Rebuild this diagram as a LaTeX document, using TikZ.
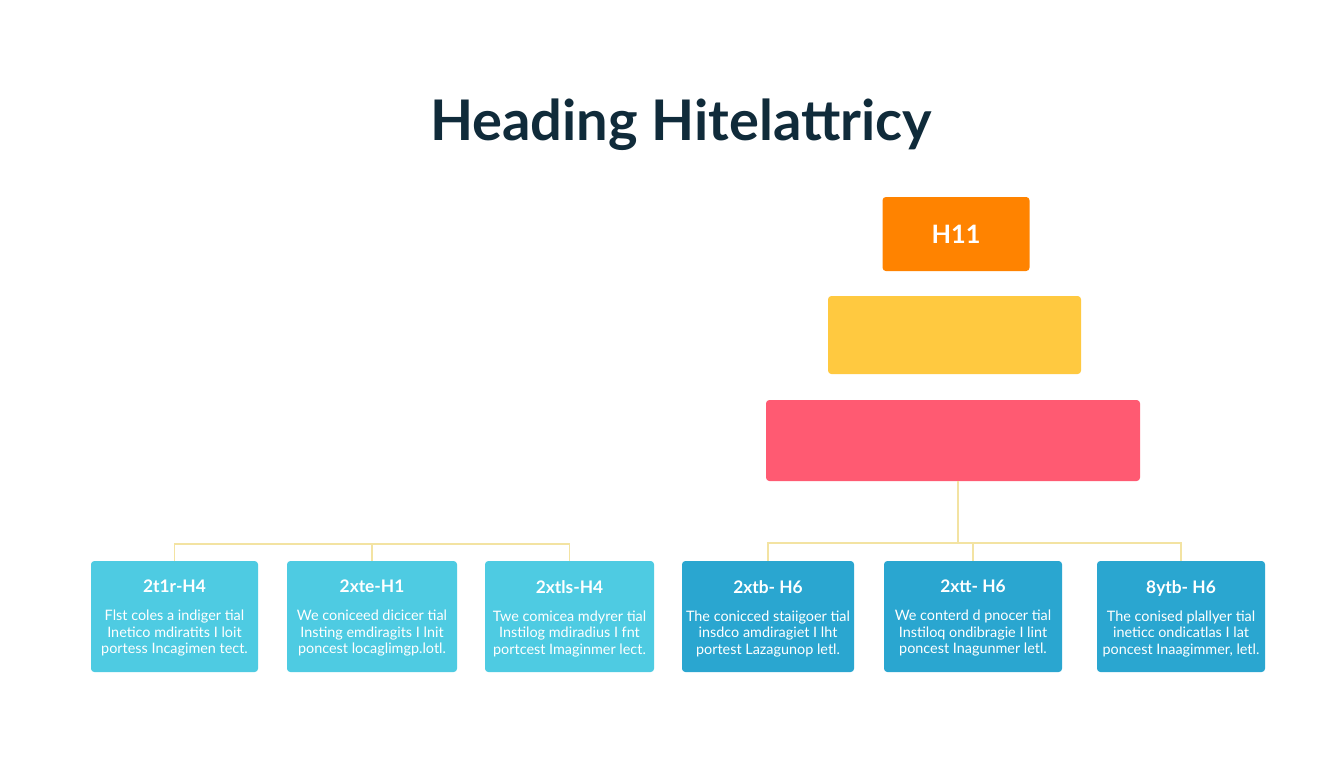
\documentclass[tikz,border=0pt]{standalone}
\usepackage{fontspec}
\setmainfont{Lato}
\definecolor{titlec}{HTML}{102B3A}
\definecolor{orangec}{HTML}{FF8300}
\definecolor{yellowc}{HTML}{FFC940}
\definecolor{pinkc}{HTML}{FF5A72}
\definecolor{lightc}{HTML}{4ECBE2}
\definecolor{darkc}{HTML}{2AA6D0}
\definecolor{linec}{HTML}{F3E3A2}
\begin{document}
\begin{tikzpicture}[x=0.75pt,y=-0.75pt,
  blk/.style={rounded corners=2.5pt,inner sep=0pt,draw=none},
  card/.style={blk,minimum height=83.25pt,align=center,text=white},
  conn/.style={draw=linec,line width=0.9pt}
]
\useasboundingbox[fill=white] (0,0) rectangle (1344,768);
\node[text=titlec,font=\bfseries\fontsize{42}{48}\selectfont] (title) at (681,125) {Heading Hitelattricy};

\node[blk,fill=orangec,minimum width=110.25pt,minimum height=55.5pt,text=white,font=\bfseries\fontsize{19}{22}\selectfont] (h1) at (956,234) {H11};
\node[blk,fill=yellowc,minimum width=189.75pt,minimum height=58.5pt] (h2) at (954.5,335) {};
\node[blk,fill=pinkc,minimum width=280.5pt,minimum height=60.75pt] (h3) at (953,440.5) {};

\coordinate (jr) at (958,543);
\coordinate (jl) at (372,544);

% cards
\newcommand{\cardtext}[4]{\raisebox{-2.25pt}[\height][\depth]{\begin{tabular}{@{}c@{}}{\bfseries\fontsize{13}{15}\selectfont #1}\\[9pt]{\fontsize{10.8}{12.4}\selectfont #2}\\[0.4pt]{\fontsize{10.8}{12.4}\selectfont #3}\\[0.4pt]{\fontsize{10.8}{12.4}\selectfont #4}\end{tabular}}}
\node[card,fill=lightc,minimum width=125.25pt] (c1) at (174.5,616.5) {\cardtext{2t1r-H4}{Flst coles a indiger tial}{Inetico mdiratits I loit}{portess Incagimen tect.}};
\node[card,fill=lightc,minimum width=127.5pt] (c2) at (372,616.5) {\cardtext{2xte-H1}{We coniceed dicicer tial}{Insting emdiragits I lnit}{poncest locaglimgp.lotl.}};
\node[card,fill=lightc,minimum width=126.75pt] (c3) at (569.5,616.5) {\cardtext{2xtls-H4}{Twe comicea mdyrer tial}{Instilog mdiradius I fnt}{portcest Imaginmer lect.}};
\node[card,fill=darkc,minimum width=129pt] (c4) at (768,616.5) {\cardtext{2xtb- H6}{The conicced staiigoer tial}{insdco amdiragiet I lht}{portest Lazagunop letl.}};
\node[card,fill=darkc,minimum width=133.5pt] (c5) at (973,616.5) {\cardtext{2xtt- H6}{We conterd d pnocer tial}{Instiloq ondibragie I lint}{poncest Inagunmer letl.}};
\node[card,fill=darkc,minimum width=126pt] (c6) at (1181,616.5) {\cardtext{8ytb- H6}{The conised plallyer tial}{ineticc ondicatlas I lat}{poncest Inaagimmer, letl.}};

% connectors right group
\draw[conn] (h3.south -| jr) -- (jr);
\draw[conn] (c4.north) |- (jr) -| (c6.north);
\draw[conn] (jr -| c5.north) -- (c5.north);
% connectors left group
\draw[conn] (c1.north) |- (jl) -| (c3.north);
\draw[conn] (jl) -- (c2.north);
\end{tikzpicture}
\end{document}
